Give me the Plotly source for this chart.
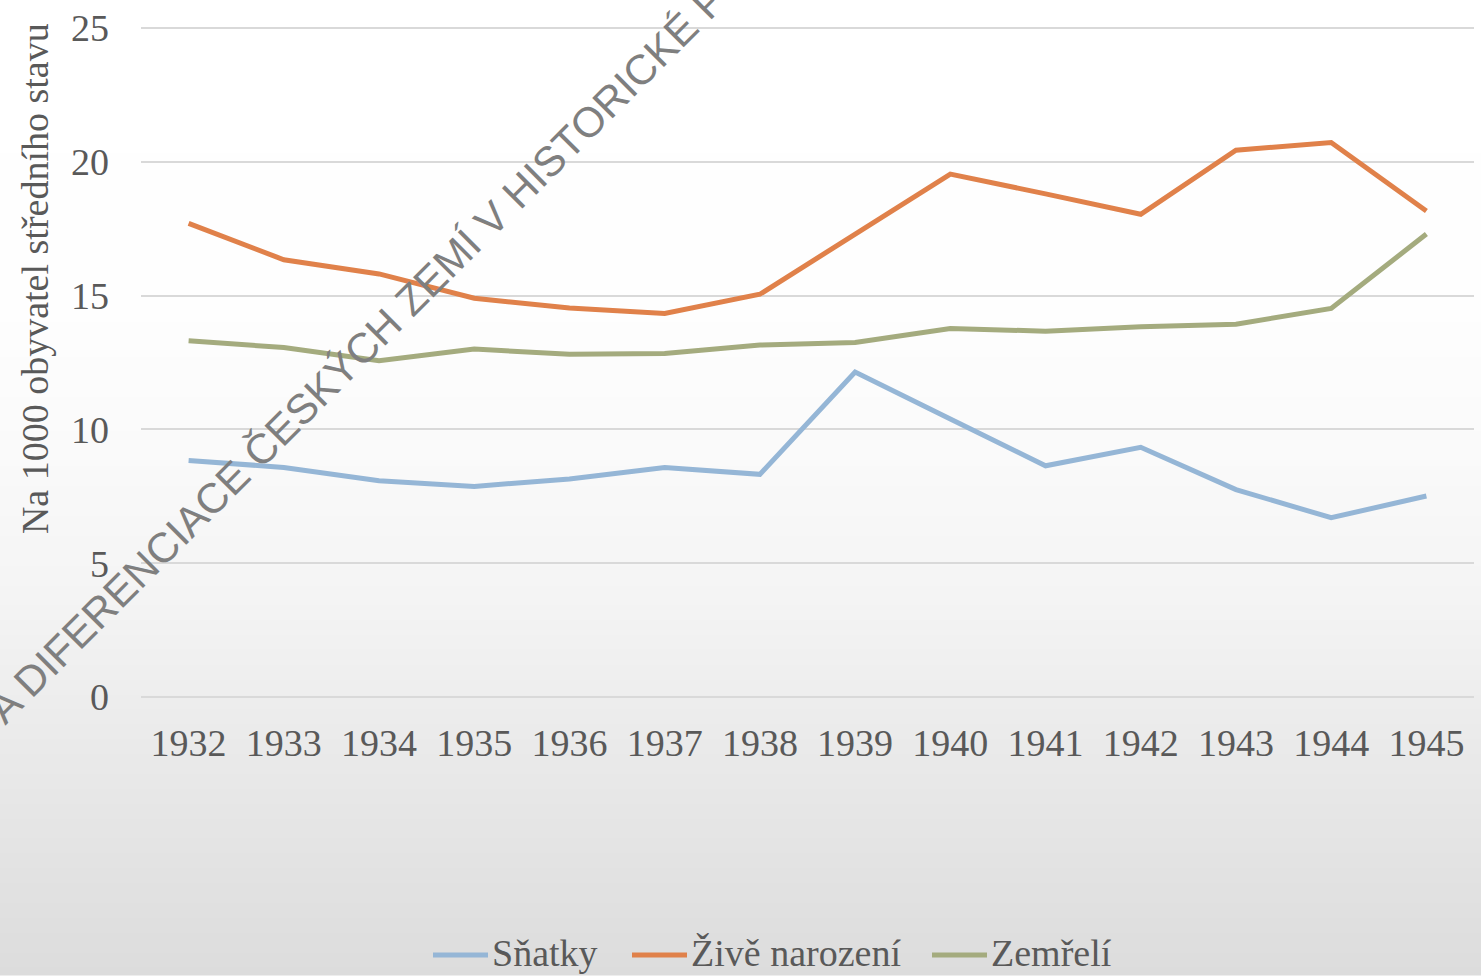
import plotly.graph_objects as go

years = ["1932", "1933", "1934", "1935", "1936", "1937", "1938",
         "1939", "1940", "1941", "1942", "1943", "1944", "1945"]
snatky = [8.84, 8.58, 8.08, 7.87, 8.15, 8.58, 8.32, 12.14, 10.39, 8.64, 9.33, 7.75, 6.70, 7.51]
zive_narozeni = [17.70, 16.34, 15.81, 14.90, 14.54, 14.33, 15.05, 17.30, 19.54, 18.80, 18.04, 20.43, 20.72, 18.16]
zemreli = [13.31, 13.06, 12.57, 13.00, 12.81, 12.84, 13.15, 13.25, 13.77, 13.67, 13.84, 13.93, 14.52, 17.30]

series_names = ["Sňatky", "Živě narození", "Zemřelí"]
series_colors = ["#95b6d6", "#e0814a", "#a4ab7e"]
y_title = "Na 1000 obyvatel středního stavu"
watermark = "A DIFERENCIACE ČESKÝCH ZEMÍ V HISTORICKÉ P"

W, H = 1481, 977
ML, MR, MT, MB = 141, 7, 20, 277
PW, PH = W - ML - MR, H - MT - MB
upp = 25 / (PH - 6)  # value units per pixel (3 px padding each end keeps edge gridlines)

def px_to_paper_x(px):
    return (px - ML) / PW

def px_to_paper_y(py):
    return (H - MB - py) / PH

fig = go.Figure()
for name, vals, col in zip(series_names, [snatky, zive_narozeni, zemreli], series_colors):
    fig.add_trace(go.Scatter(x=years, y=vals, name=name, mode="lines",
                             line=dict(color=col, width=5), showlegend=False,
                             hoverinfo="skip"))

# background gradient (white at top -> light grey at bottom)
stops = [(0, 255), (300, 254), (450, 250), (600, 244), (700, 237), (977, 220)]
def grey_at(py):
    for (y0, c0), (y1, c1) in zip(stops[:-1], stops[1:]):
        if y0 <= py <= y1:
            return c0 + (c1 - c0) * (py - y0) / (y1 - y0)
    return stops[-1][1]

shapes = []
band = 5
for y0 in range(0, H, band):
    y1 = min(H, y0 + band)
    g = int(round(grey_at((y0 + y1) / 2)))
    shapes.append(dict(type="rect", xref="paper", yref="paper", layer="below",
                       x0=px_to_paper_x(-2), x1=px_to_paper_x(W + 2),
                       y0=px_to_paper_y(y1 + 0.5), y1=px_to_paper_y(y0 - 0.5),
                       line=dict(width=0), fillcolor=f"rgb({g},{g},{g})"))

font_serif = "Liberation Serif, Times New Roman, serif"
txt_col = "#595959"
FS = 38

# custom legend (lines + labels) at the bottom
legend_line_x = [433, 632, 932]
legend_y = 957
annotations = []
for name, col, lx in zip(series_names, series_colors, legend_line_x):
    shapes.append(dict(type="line", xref="paper", yref="paper",
                       x0=px_to_paper_x(lx), x1=px_to_paper_x(lx + 55),
                       y0=px_to_paper_y(legend_y), y1=px_to_paper_y(legend_y),
                       line=dict(color=col, width=5)))
    annotations.append(dict(text=name, xref="paper", yref="paper",
                            x=px_to_paper_x(lx + 57), y=px_to_paper_y(legend_y - 2),
                            xanchor="left", yanchor="middle", showarrow=False,
                            font=dict(size=FS, color=txt_col, family=font_serif)))

annotations.append(dict(text=y_title, xref="paper", yref="paper",
                        x=px_to_paper_x(35), y=px_to_paper_y(276), xanchor="center", yanchor="middle",
                        textangle=-90, showarrow=False,
                        font=dict(size=FS, color=txt_col, family=font_serif)))
annotations.append(dict(text=watermark, xref="paper", yref="paper",
                        x=px_to_paper_x(357), y=px_to_paper_y(351), xanchor="center", yanchor="middle",
                        textangle=-45, showarrow=False,
                        font=dict(size=42, color="#7f7f7f", family="Liberation Sans, Arial, sans-serif")))

fig.update_layout(
    width=W, height=H,
    margin=dict(l=ML, r=MR, t=MT, b=MB, pad=0),
    paper_bgcolor="white",
    plot_bgcolor="rgba(0,0,0,0)",
    shapes=shapes,
    annotations=annotations,
    showlegend=False,
    hovermode=False,
    font=dict(family=font_serif, size=FS, color=txt_col),
    xaxis=dict(type="category", range=[-0.5, 13.5], showgrid=False, showline=False,
               zeroline=False, ticks="", tickfont=dict(size=FS, color=txt_col),
               ticklabelstandoff=17),
    yaxis=dict(range=[-3 * upp, 25 + 3 * upp], tickvals=[0, 5, 10, 15, 20, 25],
               showgrid=True, gridcolor="#d9d9d9", gridwidth=1.5,
               zeroline=False, showline=False, ticks="",
               tickfont=dict(size=FS, color=txt_col), ticklabelstandoff=31),
)

fig.write_html("out.html", config={"displayModeBar": False},
               post_script="document.body.style.margin='0px';")
